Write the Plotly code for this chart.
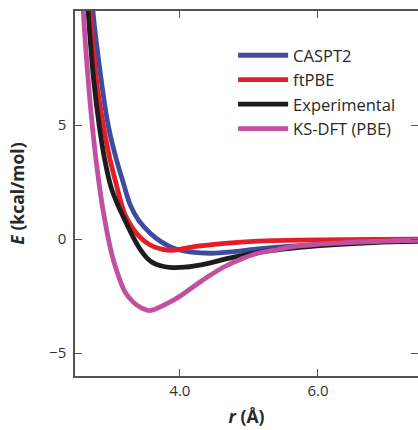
import plotly.graph_objects as go

# Potential energy curves: r in Angstrom, E in kcal/mol
r_caspt2 = [2.70, 2.74, 2.85, 2.96, 3.07, 3.17, 3.28, 3.40, 3.57, 3.73, 3.92, 4.17, 4.45, 4.79, 5.13, 5.47, 6.20, 7.45]
e_caspt2 = [12.0, 10.0, 7.2, 5.0, 3.6, 2.57, 1.5, 0.83, 0.26, -0.12, -0.41, -0.57, -0.62, -0.55, -0.43, -0.34, -0.20, -0.05]

r_ftpbe = [2.66, 2.70, 2.79, 2.89, 2.98, 3.07, 3.20, 3.30, 3.40, 3.50, 3.62, 3.75, 3.87, 4.00, 4.17, 4.65, 5.13, 5.76, 7.45]
e_ftpbe = [12.0, 10.0, 7.0, 5.0, 3.6, 2.5, 1.1, 0.55, 0.15, -0.12, -0.33, -0.45, -0.49, -0.45, -0.35, -0.19, -0.09, -0.04, 0.0]

r_exp = [2.63, 2.67, 2.75, 2.83, 2.91, 3.00, 3.10, 3.20, 3.28, 3.36, 3.44, 3.52, 3.60, 3.72, 3.85, 4.07, 4.41, 4.70, 4.89, 5.20, 5.60, 6.20, 6.80, 7.45]
e_exp = [12.0, 10.0, 7.0, 5.0, 3.5, 2.3, 1.5, 0.85, 0.35, -0.12, -0.52, -0.82, -1.02, -1.17, -1.24, -1.23, -1.06, -0.84, -0.72, -0.55, -0.40, -0.25, -0.15, -0.10]

r_pbe = [2.57, 2.60, 2.66, 2.73, 2.80, 2.89, 3.01, 3.08, 3.20, 3.32, 3.44, 3.56, 3.92, 4.17, 4.41, 4.65, 4.89, 5.13, 5.37, 5.76, 6.40, 7.45]
e_pbe = [12.0, 10.0, 7.4, 5.0, 3.1, 1.2, -0.62, -1.35, -2.29, -2.75, -3.01, -3.13, -2.65, -2.14, -1.64, -1.20, -0.87, -0.62, -0.48, -0.29, -0.15, -0.05]

names = ['CASPT2', 'ftPBE', 'Experimental', 'KS-DFT (PBE)']
x_data = [r_caspt2, r_ftpbe, r_exp, r_pbe]
y_data = [e_caspt2, e_ftpbe, e_exp, e_pbe]
colors = ['rgb(62, 76, 160)', 'rgb(226, 30, 38)', 'rgb(28, 28, 28)', 'rgb(194, 80, 160)']

x_ticks = [4, 6]
y_ticks = [-5, 0, 5]

FONT = "Open Sans"
AXIS = 'rgb(85, 85, 85)'
TEXT = 'rgb(40, 40, 40)'

fig = go.Figure()
for i in range(4):
    fig.add_trace(go.Scatter(
        mode='lines',
        x=x_data[i],
        y=y_data[i],
        name=names[i],
        line=dict(width=4.8, color=colors[i], shape='spline', smoothing=1.0)))

fig.update_layout(
    width=418, height=430,
    margin=dict(l=75, r=0, t=11, b=54),
    paper_bgcolor='white', plot_bgcolor='white',
    font=dict(family=FONT, size=15, color='rgb(51, 51, 51)'),
    legend=dict(
        x=0.461, y=0.926, xanchor='left', yanchor='top',
        itemwidth=50,
        bgcolor='rgba(0,0,0,0)',
        font=dict(family=FONT, size=16.5, color=TEXT)),
)

fig.update_xaxes(
    range=[2.48, 7.45], automargin=False,
    tickvals=x_ticks, tickformat='.1f',
    ticks='inside', ticklen=7, tickwidth=1.2, tickcolor=AXIS,
    showline=True, linecolor=AXIS, linewidth=1.5, mirror='ticks',
    showgrid=False, zeroline=False,
    title=dict(text='<b><i>r</i> (Å)</b>', font=dict(family=FONT, size=17.5, color=TEXT), standoff=12),
)
fig.update_yaxes(
    range=[-6, 10], automargin=False,
    tickvals=y_ticks,
    ticks='inside', ticklen=7, tickwidth=1.2, tickcolor=AXIS,
    showline=True, linecolor=AXIS, linewidth=1.5, mirror='ticks',
    showgrid=False, zeroline=False,
    ticklabelstandoff=4,
    title=dict(text='<b><i>E</i> (kcal/mol)</b>', font=dict(family=FONT, size=17.5, color=TEXT), standoff=20),
)

# page body has a default 8px margin; drop it so the figure fills the window
fig.write_html("out.html", config={'displayModeBar': False},
               post_script="document.body.style.margin='0';")
